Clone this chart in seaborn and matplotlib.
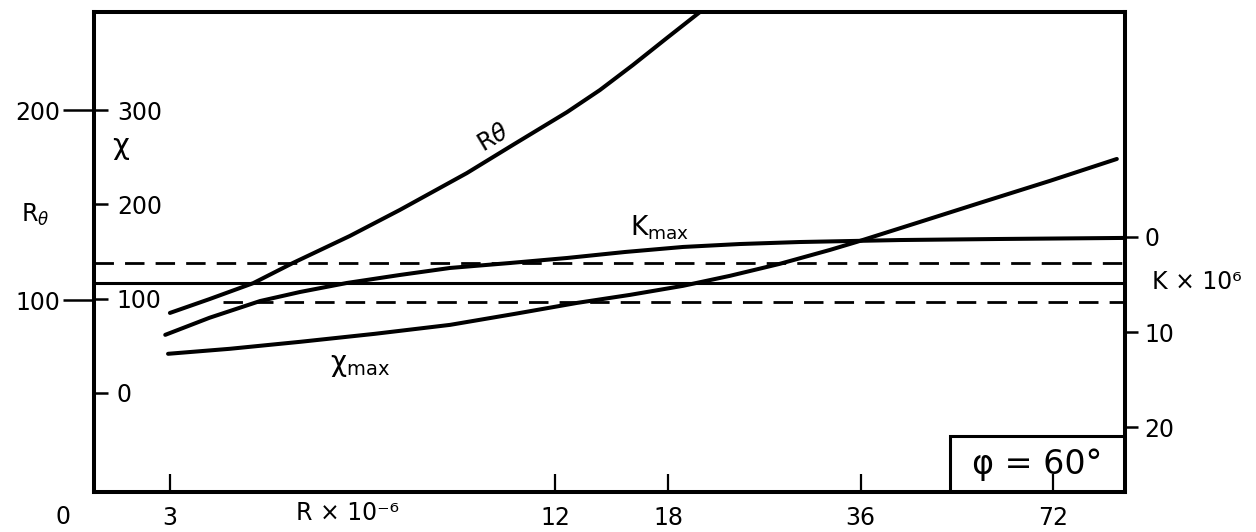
import matplotlib
matplotlib.use("Agg")
import numpy as np
import pandas as pd
import matplotlib.pyplot as plt
import seaborn as sns
from matplotlib.ticker import FixedLocator, NullLocator, FixedFormatter
from matplotlib.patches import Rectangle

# --- data (x = R x 10^-6, log scale) ---
r_theta_x = [3.0, 3.46, 4.05, 4.67, 5.73, 6.86, 8.73, 10.30, 12.52, 14.09, 15.87, 17.93, 20.2]
r_theta_y = [93.2, 100.5, 108.9, 119.5, 133.7, 147.4, 166.8, 181.6, 198.9, 210.5, 223.7, 237.9, 251.6]

kmax_x = [2.95, 3.46, 4.15, 4.79, 5.67, 6.86, 8.22, 10.19, 12.52, 15.42, 19.0, 23.32, 28.9, 41.5, 59.4, 92.5]
kmax_y = [10.3, 8.5, 6.74, 5.79, 4.84, 4.0, 3.26, 2.74, 2.21, 1.58, 1.05, 0.74, 0.53, 0.32, 0.21, 0.1]

chimax_x = [2.98, 3.72, 4.79, 6.27, 8.22, 10.38, 12.98, 15.70, 19.0, 22.49, 26.9, 32.24, 35.5, 44.57, 55.3, 71.1, 90.5]
chimax_y = [41.4, 46.7, 54.1, 62.6, 72.1, 83.8, 95.4, 103.9, 113.5, 124.1, 136.8, 151.6, 160.1, 181.3, 201.5, 224.8, 248.1]

k_levels = [2.7, 4.8, 6.8]          # upper dashed, solid, lower dashed (K x 10^6)
k_lower_start = 3.63

x_ticks = [3, 12, 18, 36, 72]
chi_ticks = [0, 100, 200, 300]
rtheta_ticks = [100, 200]
k_ticks = [0, 10, 20]

W, H = 1256, 532
sns.set_theme(style="white")
plt.rcParams["font.family"] = ["DejaVu Sans"]
plt.rcParams["mathtext.fontset"] = "dejavusans"
plt.rcParams["text.color"] = "black"
plt.rcParams["xtick.color"] = "black"
plt.rcParams["ytick.color"] = "black"
plt.rcParams["xtick.labelcolor"] = "black"
plt.rcParams["ytick.labelcolor"] = "black"

fig = plt.figure(figsize=(W / 100, H / 100), dpi=100)
fig.subplots_adjust(left=94 / W, right=1125 / W, bottom=1 - 492 / H, top=1 - 12 / H)
ax = fig.add_subplot(111)
ax.set_xscale("log")
ax.set_xlim(2.283, 93.2)
ax.set_ylim(-105.2, 404.0)   # chi scale

ax_r = ax.twinx()              # R_theta scale (outer left)
ax_r.set_ylim(-1.05, 251.6)
ax_k = ax.twinx()              # K x 10^6 scale (right, inverted)
ax_k.set_ylim(26.84, -23.68)

fs = 17
lw = 2.9

# curves
sns.lineplot(x=r_theta_x, y=r_theta_y, ax=ax_r, color="black", linewidth=lw)
sns.lineplot(x=kmax_x, y=kmax_y, ax=ax_k, color="black", linewidth=lw)
sns.lineplot(x=chimax_x, y=chimax_y, ax=ax, color="black", linewidth=lw)

# horizontal reference lines
ax_k.axhline(k_levels[0], color="black", linewidth=2.0, dashes=(7, 4))
ax_k.axhline(k_levels[1], color="black", linewidth=2.2)
ax_k.hlines(k_levels[2], k_lower_start, 93.2, color="black", linewidth=2.0,
            linestyles=(0, (7, 4)))

# x axis
for a in (ax, ax_r, ax_k):
    a.xaxis.set_minor_locator(NullLocator())
    a.set_xlabel("")
    a.set_ylabel("")
ax.xaxis.set_major_locator(FixedLocator(x_ticks))
ax.xaxis.set_major_formatter(FixedFormatter([str(t) for t in x_ticks]))
ax.tick_params(axis="x", direction="in", length=13, width=1.6, pad=10,
               labelsize=fs, bottom=True, top=False)

# chi ticks: inside, labels inside
ax.yaxis.set_major_locator(FixedLocator(chi_ticks))
ax.yaxis.set_minor_locator(NullLocator())
ax.set_yticklabels([str(t) for t in chi_ticks])
ax.tick_params(axis="y", direction="in", length=10, width=1.8, pad=-16.5,
               labelsize=fs, left=True, right=False)
plt.setp(ax.get_yticklabels(), ha="left")

# R_theta ticks: outside on the left
ax_r.yaxis.tick_left()
ax_r.yaxis.set_major_locator(FixedLocator(rtheta_ticks))
ax_r.yaxis.set_minor_locator(NullLocator())
ax_r.set_yticklabels([str(t) for t in rtheta_ticks])
ax_r.tick_params(axis="y", direction="out", length=22, width=1.8, pad=2,
                 labelsize=fs, left=True, right=False)

# K ticks: outside on the right
ax_k.yaxis.set_major_locator(FixedLocator(k_ticks))
ax_k.yaxis.set_minor_locator(NullLocator())
ax_k.set_yticklabels([str(t) for t in k_ticks])
ax_k.tick_params(axis="y", direction="out", length=9, width=1.8, pad=5,
                 labelsize=fs, right=True, left=False)

for a in (ax_r, ax_k):
    for s in a.spines.values():
        s.set_visible(False)
for s in ax.spines.values():
    s.set_visible(True)
    s.set_color("black")
    s.set_linewidth(2.9)
ax.grid(False)

# phi box in the lower right corner
ax.add_patch(Rectangle((0.830, 0.0), 0.170, 0.117, transform=ax.transAxes,
                       fill=False, edgecolor="black", linewidth=2.2, zorder=5))
ax.text(0.915, 0.058, "φ = 60°", transform=ax.transAxes, ha="center",
        va="center", fontsize=24, zorder=6)

# labels
def fx(px):
    return px / W

def fy(py):
    return 1 - py / H

fig.text(fx(63), fy(517), "0", ha="center", va="center", fontsize=fs)
fig.text(fx(348), fy(513), "R × 10⁻⁶", ha="center", va="center", fontsize=fs)
fig.text(fx(1197), fy(282), "K × 10⁶", ha="center", va="center", fontsize=fs)
fig.text(fx(35), fy(215), r"R$_\theta$", ha="center", va="center", fontsize=fs)
fig.text(fx(121), fy(146), "χ", ha="center", va="center", fontsize=21)
fig.text(fx(493), fy(138), r"R$\theta$", ha="center", va="center",
         fontsize=fs, rotation=31)
fig.text(fx(660), fy(228), r"K$_{\rm max}$", ha="center", va="center", fontsize=19)
fig.text(fx(360), fy(365), r"χ$_{\rm max}$", ha="center", va="center", fontsize=20)

fig.savefig("out.png", dpi=100)
